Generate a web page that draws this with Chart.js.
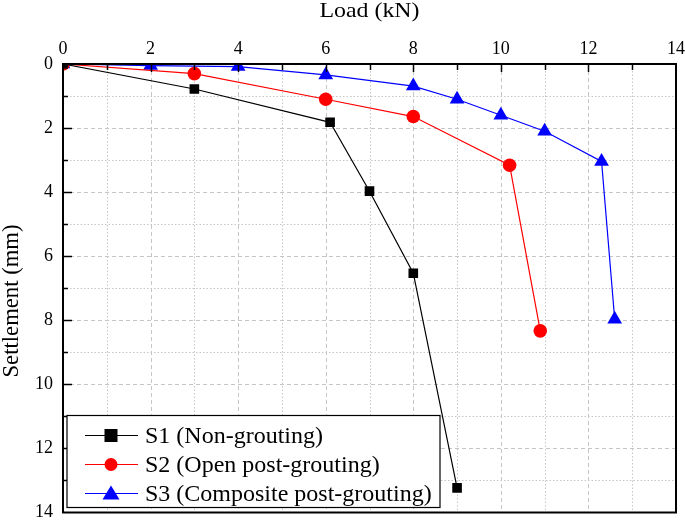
<!DOCTYPE html>
<html>
<head>
<meta charset="utf-8">
<script src="https://cdn.jsdelivr.net/npm/chart.js@4.4.1/dist/chart.umd.min.js"></script>
<style>
  html, body { margin: 0; padding: 0; background: #fff; }
  #wrap { width: 685px; height: 521px; }
</style>
</head>
<body>
<div id="wrap"><canvas id="myChart" width="685" height="521"></canvas></div>
<script>
// load (kN) and settlement (mm) for the three piles
const s1Load = [0, 3, 6.1, 7, 8, 9];
const s1Settle = [0, 0.78, 1.82, 3.97, 6.53, 13.23];
const s2Load = [0, 3, 6, 8, 10.2, 10.9];
const s2Settle = [0, 0.3, 1.1, 1.64, 3.16, 8.33];
const s3Load = [0, 2, 4, 6, 8, 9, 10, 11, 12.3, 12.6];
const s3Settle = [0, 0.05, 0.08, 0.34, 0.69, 1.1, 1.6, 2.1, 3.04, 7.97];
const seriesLabels = ['S1 (Non-grouting)', 'S2 (Open post-grouting)', 'S3 (Composite post-grouting)'];
const seriesColors = ['#000000', '#ff0000', '#0000ff'];
const seriesMarkers = ['rect', 'circle', 'triangle'];
const xTitle = 'Load (kN)';
const yTitle = 'Settlement (mm)';

const serif = "'Liberation Serif', 'DejaVu Serif', serif";

function pts(xs, ys) {
  return xs.map((x, i) => ({x: x, y: ys[i]}));
}

function drawMarker(ctx, style, x, y, color) {
  ctx.fillStyle = color;
  ctx.beginPath();
  if (style === 'rect') {
    ctx.rect(x - 6.5, y - 6.5, 13, 13);
  } else if (style === 'circle') {
    ctx.arc(x, y, 6.5, 0, Math.PI * 2);
  } else {
    ctx.moveTo(x, y - 8);
    ctx.lineTo(x + 8.5, y + 6);
    ctx.lineTo(x - 8.5, y + 6);
    ctx.closePath();
  }
  ctx.fill();
}

// stretch a label to a given width, the source text is a bit wide
function fitText(ctx, text, x, y, width) {
  const w = ctx.measureText(text).width;
  ctx.save();
  ctx.translate(x, y);
  ctx.scale(width / w, 1);
  ctx.fillText(text, 0, 0);
  ctx.restore();
}

// dashed major / dotted minor grid under the data
const gridPlugin = {
  id: 'dashGrid',
  beforeDatasetsDraw(chart) {
    const ctx = chart.ctx;
    const a = chart.chartArea;
    const xs = chart.scales.x, ys = chart.scales.y;
    ctx.save();
    ctx.strokeStyle = '#c6c6c6';
    ctx.lineWidth = 1;
    for (let v = 1; v < 14; v++) {
      ctx.setLineDash(v % 2 === 0 ? [4, 3] : [1.5, 2]);
      const px = Math.round(xs.getPixelForValue(v)) + 0.5;
      ctx.beginPath(); ctx.moveTo(px, a.top); ctx.lineTo(px, a.bottom); ctx.stroke();
      const py = Math.round(ys.getPixelForValue(v)) + 0.5;
      ctx.beginPath(); ctx.moveTo(a.left, py); ctx.lineTo(a.right, py); ctx.stroke();
    }
    ctx.restore();
  }
};

// frame, inward ticks, titles and the boxed legend
const framePlugin = {
  id: 'frame',
  afterDatasetsDraw(chart) {
    const ctx = chart.ctx;
    const a = chart.chartArea;
    const xs = chart.scales.x, ys = chart.scales.y;
    ctx.save();
    ctx.strokeStyle = '#000';
    ctx.lineWidth = 1.5;
    for (let v = 1; v < 14; v++) {
      const px = Math.round(xs.getPixelForValue(v)) + 0.5;
      ctx.beginPath(); ctx.moveTo(px, a.top); ctx.lineTo(px, a.top + (v % 2 === 0 ? 8 : 6)); ctx.stroke();
      const py = Math.round(ys.getPixelForValue(v)) + 0.5;
      ctx.beginPath(); ctx.moveTo(a.left, py); ctx.lineTo(a.left + (v % 2 === 0 ? 9 : 5), py); ctx.stroke();
    }
    ctx.lineWidth = 2;
    ctx.strokeRect(a.left, a.top, a.right - a.left, a.bottom - a.top);

    // legend
    const lx = a.left + 4, ly = a.bottom - 97, lw = 373, lh = 92;
    ctx.fillStyle = '#fff';
    ctx.fillRect(lx, ly, lw, lh);
    ctx.lineWidth = 1.2;
    ctx.strokeStyle = '#000';
    ctx.strokeRect(lx, ly, lw, lh);
    ctx.font = '24px ' + serif;
    ctx.textBaseline = 'middle';
    ctx.textAlign = 'left';
    seriesLabels.forEach((lab, i) => {
      const cy = ly + 20 + i * 29;
      ctx.strokeStyle = seriesColors[i];
      ctx.lineWidth = 1.2;
      ctx.beginPath(); ctx.moveTo(lx + 18, cy); ctx.lineTo(lx + 71, cy); ctx.stroke();
      drawMarker(ctx, seriesMarkers[i], lx + 44, cy, seriesColors[i]);
      ctx.fillStyle = '#000';
      ctx.fillText(lab, lx + 78, cy + 1);
    });

    // axis titles
    ctx.fillStyle = '#000';
    ctx.textAlign = 'center';
    ctx.textBaseline = 'middle';
    ctx.font = '22px ' + serif;
    fitText(ctx, xTitle, (a.left + a.right) / 2, 11, 100);
    ctx.translate(12, 301);
    ctx.rotate(-Math.PI / 2);
    ctx.font = '23px ' + serif;
    fitText(ctx, yTitle, 0, 0, 153);
    ctx.restore();
  }
};

function makeSet(i, xs, ys) {
  return {
    label: seriesLabels[i],
    data: pts(xs, ys),
    showLine: true,
    borderColor: seriesColors[i],
    backgroundColor: seriesColors[i],
    borderWidth: 1.2,
    pointStyle: seriesMarkers[i],
    pointRadius: seriesMarkers[i] === 'triangle' ? 8.5 : 6.8,
    pointBorderWidth: 0,
    tension: 0
  };
}

const ctx = document.getElementById('myChart').getContext('2d');
const myChart = new Chart(ctx, {
  type: 'scatter',
  data: {
    datasets: [
      makeSet(0, s1Load, s1Settle),
      makeSet(1, s2Load, s2Settle),
      makeSet(2, s3Load, s3Settle)
    ]
  },
  options: {
    responsive: false,
    animation: false,
    layout: { padding: { right: 9, bottom: 5, top: 0, left: 0 } },
    plugins: {
      legend: { display: false },
      tooltip: { enabled: false }
    },
    scales: {
      x: {
        type: 'linear',
        position: 'top',
        min: 0, max: 14,
        afterFit: s => { s.height = 64; s.paddingLeft = 0; s.paddingRight = 0; },
        grid: { display: false, drawTicks: false },
        border: { display: false },
        ticks: {
          stepSize: 1,
          color: '#000',
          padding: 4,
          maxRotation: 0,
          autoSkip: false,
          font: { family: serif, size: 18 },
          callback: v => (v % 2 === 0 ? v : '')
        },
        title: { display: false }
      },
      y: {
        type: 'linear',
        reverse: true,
        min: 0, max: 14,
        afterFit: s => { s.width = 63; s.paddingTop = 0; s.paddingBottom = 0; },
        grid: { display: false, drawTicks: false },
        border: { display: false },
        ticks: {
          stepSize: 1,
          color: '#000',
          padding: 10,
          autoSkip: false,
          font: { family: serif, size: 18 },
          callback: v => (v % 2 === 0 ? v : '')
        },
        title: { display: false }
      }
    }
  },
  plugins: [gridPlugin, framePlugin]
});
</script>
</body>
</html>
